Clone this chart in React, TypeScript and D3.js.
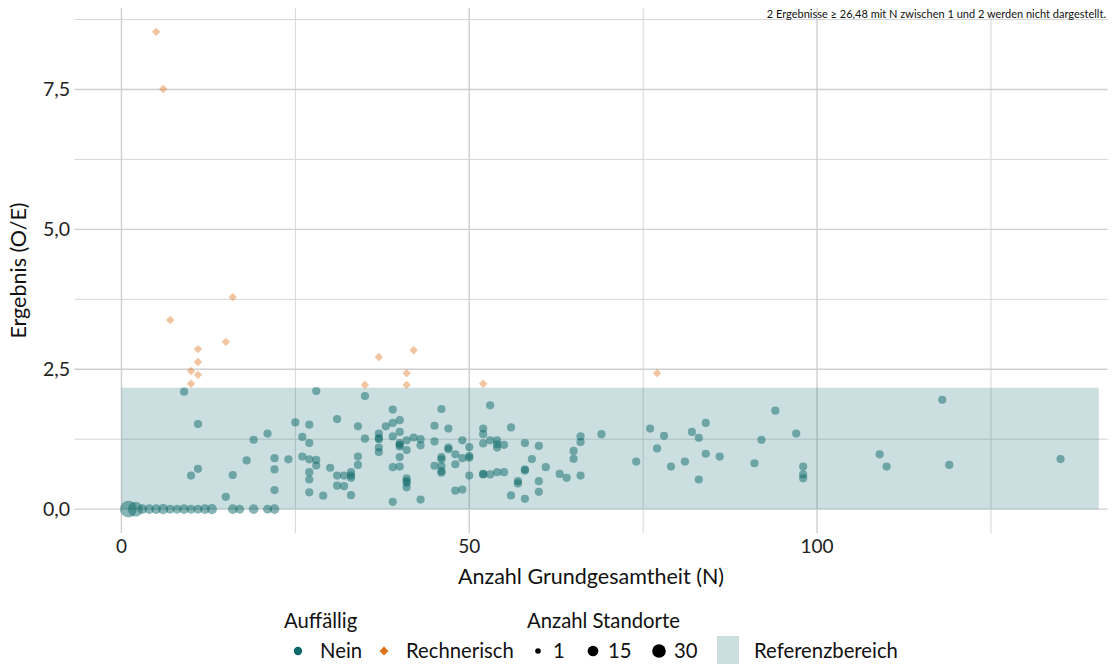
import React from "react";
import * as d3 from "d3";

// ---- Data ----
const neinN = [1, 2, 3, 4, 5, 6, 7, 8, 9, 10, 11, 12, 13, 16, 17, 19, 21, 22,
  9, 11, 11, 10, 15, 16, 18, 19, 21, 22, 22, 22,
  24, 25, 26, 26, 27, 27, 27, 27, 27, 27, 28, 28, 28, 29, 30, 31, 31, 31, 32, 32, 33, 33, 33, 33, 34, 34, 34, 35, 35,
  37, 37, 37, 37, 37, 38, 39, 39, 39, 39, 39, 40, 40, 40, 40, 40, 40, 40, 41, 41, 41, 41, 41, 41, 42, 43, 43, 43,
  45, 45, 45, 46, 46, 46, 46, 46, 46, 47, 47, 47, 48, 48, 48, 49, 49, 49, 50, 50, 50, 50,
  52, 52, 52, 52, 52, 53, 53, 53, 54, 54, 54, 54, 55, 55, 56, 56, 57, 57, 58, 58, 58, 58, 59, 60, 60, 60, 61, 63, 64,
  65, 65, 66, 66, 66, 69, 74, 76, 77, 78, 79, 81, 82, 83, 83, 84, 84, 86, 91, 92, 94, 97, 98, 98, 98,
  109, 110, 118, 119, 135];
const neinValue = [0, 0, 0, 0, 0, 0, 0, 0, 0, 0, 0, 0, 0, 0, 0, 0, 0, 0,
  2.10, 1.52, 0.72, 0.60, 0.22, 0.61, 0.87, 1.24, 1.35, 0.91, 0.71, 0.34,
  0.89, 1.55, 1.29, 0.94, 1.51, 1.18, 0.89, 0.66, 0.53, 0.30, 2.11, 0.88, 0.78, 0.24, 0.74, 1.61, 0.60, 0.42, 0.60, 0.41, 0.66, 0.60, 0.56, 0.25, 1.48, 0.94, 0.79, 2.02, 1.26,
  1.35, 1.27, 1.25, 1.10, 1.02, 1.48, 1.78, 1.54, 1.30, 0.75, 0.13, 1.59, 1.38, 1.18, 1.15, 1.12, 0.93, 0.76, 1.23, 1.055, 0.55, 0.50, 0.47, 0.39, 1.28, 1.25, 1.14, 0.17,
  1.49, 1.21, 0.775, 1.79, 0.93, 0.89, 0.77, 0.68, 0.65, 1.44, 1.10, 1.07, 0.98, 0.80, 0.33, 1.23, 0.91, 0.35, 1.11, 0.95, 0.92, 0.60,
  1.44, 1.34, 1.175, 0.63, 0.62, 1.855, 1.23, 0.62, 1.23, 1.16, 1.10, 0.66, 1.15, 0.66, 1.46, 0.245, 0.50, 0.46, 1.18, 0.71, 0.69, 0.185, 0.895, 1.13, 0.50, 0.31, 0.75, 0.63, 0.56,
  1.04, 0.90, 1.30, 1.20, 0.60, 1.34, 0.85, 1.44, 1.085, 1.31, 0.76, 0.85, 1.38, 1.275, 0.53, 1.54, 0.99, 0.94, 0.82, 1.24, 1.76, 1.35, 0.76, 0.62, 0.55,
  0.98, 0.76, 1.955, 0.79, 0.895];
const neinStandorte = [30, 20, 3, 3, 3, 4, 2, 2, 3, 2, 2, 3, 4, 3, 2, 3, 2, 3];

const rechN = [5, 6, 7, 16, 15, 11, 11, 11, 10, 10, 37, 42, 41, 41, 35, 52, 77];
const rechValue = [8.53, 7.51, 3.38, 3.79, 2.99, 2.86, 2.63, 2.40, 2.47, 2.24, 2.72, 2.84, 2.43, 2.22, 2.22, 2.24, 2.43];

const referenzN = [0, 140.5];
const referenzValue = [0, 2.17];

const xMajorTicks = [0, 50, 100];
const xMinorTicks = [25, 75, 125];
const yMajorTicks = [0, 2.5, 5, 7.5];
const yMinorTicks = [1.25, 3.75, 6.25, 8.75];
const legendSizes = [1, 15, 30];

const note = "2 Ergebnisse \u2265 26,48 mit N zwischen 1 und 2 werden nicht dargestellt.";

const TEAL = "#0f6969";
const ORANGE = "#e0731a";
const FONT = "Lato, 'Open Sans', sans-serif";

export default function App() {
  const W = 1112, H = 664;
  const panel = { left: 74.5, right: 1107.5, top: 8, bottom: 533 };
  const xData = [0, 135];
  const xPad = (xData[1] - xData[0]) * 0.05;
  const yData = [0, 8.53];
  const yPad = (yData[1] - yData[0]) * 0.05;
  const x = d3.scaleLinear().domain([xData[0] - xPad, xData[1] + xPad]).range([panel.left, panel.right]);
  const y = d3.scaleLinear().domain([yData[0] - yPad, yData[1] + yPad]).range([panel.bottom, panel.top]);
  const r = d3.scaleSqrt().domain([1, 30]).range([4.1, 8.4]);
  const rLegend = d3.scaleSqrt().domain([1, 30]).range([2.8, 6.8]);
  const fmt = d3.formatLocale({ decimal: ",", thousands: ".", grouping: [3], currency: ["", "€"] }).format(".1f");

  const nein = neinN.map((n, i) => ({ n, v: neinValue[i], s: neinStandorte[i] ?? 1 }));
  const rech = rechN.map((n, i) => ({ n, v: rechValue[i] }));
  const diamond = (cx: number, cy: number, h: number) => `M${cx},${cy - h}L${cx + h},${cy}L${cx},${cy + h}L${cx - h},${cy}Z`;

  const gridColor = "#d6d6d6";
  const legY = 651;
  const legFont = 20.3;

  return (
    <svg width={W} height={H} style={{ position: "absolute", left: 0, top: 0 }} fontFamily={FONT}>
      <rect x={0} y={0} width={W} height={H} fill="white" />
      {/* grid */}
      {yMinorTicks.map((t) => (
        <line key={"ym" + t} x1={panel.left} x2={panel.right} y1={y(t)} y2={y(t)} stroke={gridColor} strokeWidth={1} />
      ))}
      {xMinorTicks.map((t) => (
        <line key={"xm" + t} y1={panel.top} y2={panel.bottom} x1={x(t)} x2={x(t)} stroke={gridColor} strokeWidth={1} />
      ))}
      {yMajorTicks.map((t) => (
        <line key={"yM" + t} x1={panel.left} x2={panel.right} y1={y(t)} y2={y(t)} stroke="#cfcfcf" strokeWidth={1.4} />
      ))}
      {xMajorTicks.map((t) => (
        <line key={"xM" + t} y1={panel.top} y2={panel.bottom} x1={x(t)} x2={x(t)} stroke="#cfcfcf" strokeWidth={1.4} />
      ))}
      {/* reference range */}
      <rect x={x(referenzN[0])} width={x(referenzN[1]) - x(referenzN[0])} y={y(referenzValue[1])}
        height={y(referenzValue[0]) - y(referenzValue[1])} fill="rgb(24,112,116)" fillOpacity={0.225} />
      {/* points */}
      {nein.map((d, i) => (
        <circle key={"n" + i} cx={x(d.n)} cy={y(d.v)} r={r(d.s)} fill={TEAL} fillOpacity={0.5} />
      ))}
      {rech.map((d, i) => (
        <path key={"r" + i} d={diamond(x(d.n), y(d.v), 4.2)} fill={ORANGE} fillOpacity={0.42} />
      ))}
      {/* axis labels */}
      {yMajorTicks.map((t) => (
        <text key={"yl" + t} x={70} y={y(t)} dy="0.35em" textAnchor="end" fontSize={19.5} fill="#222">{fmt(t)}</text>
      ))}
      {xMajorTicks.map((t) => (
        <text key={"xl" + t} x={x(t)} y={553} textAnchor="middle" fontSize={19} fill="#222">{t}</text>
      ))}
      <text x={(panel.left + panel.right) / 2} y={584} textAnchor="middle" fontSize={21.5} fill="#111">Anzahl Grundgesamtheit (N)</text>
      <text transform={`translate(26,${(panel.top + panel.bottom) / 2}) rotate(-90)`} textAnchor="middle" fontSize={21.5} fill="#111">Ergebnis (O/E)</text>
      <text x={1106} y={18} textAnchor="end" fontSize={11} fill="#111">{note}</text>
      {/* legend */}
      <text x={284} y={628} fontSize={legFont} fill="#111">Auffällig</text>
      <circle cx={298} cy={legY} r={4.2} fill={TEAL} />
      <text x={320} y={658} fontSize={legFont} fill="#111">Nein</text>
      <path d={diamond(384, legY, 4.5)} fill={ORANGE} />
      <text x={406} y={658} fontSize={legFont} fill="#111">Rechnerisch</text>
      <text x={527} y={628} fontSize={legFont} fill="#111">Anzahl Standorte</text>
      {legendSizes.map((s, i) => {
        const cx = [538, 593, 659][i];
        return (
          <g key={"ls" + s}>
            <circle cx={cx} cy={legY} r={rLegend(s)} fill="black" />
            <text x={cx + 15} y={658} fontSize={legFont} fill="#111">{s}</text>
          </g>
        );
      })}
      <rect x={717} y={636} width={22} height={30} fill="rgb(24,112,116)" fillOpacity={0.225} />
      <text x={754} y={658} fontSize={legFont} fill="#111">Referenzbereich</text>
    </svg>
  );
}
